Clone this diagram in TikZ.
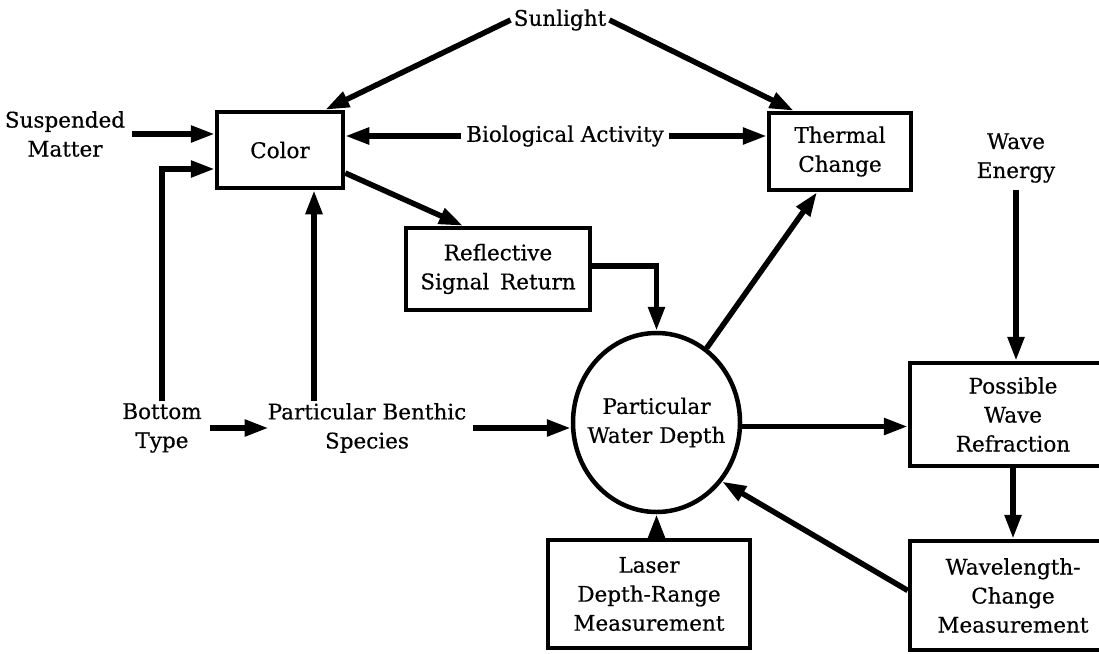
\documentclass[tikz,border=0pt]{standalone}
\usepackage{fontspec}
\setmainfont{DejaVu Serif}[FakeBold=0.5]
\usetikzlibrary{arrows.meta,shapes.geometric}
\tikzset{
  box/.style={draw, line width=4.5pt, inner sep=0pt, align=center},
  lbl/.style={align=center, inner xsep=3pt, inner ysep=2pt},
  arr/.style={line width=5.5pt, -{Triangle[length=24pt,width=16pt]}},
}
\begin{document}
\begin{tikzpicture}[x=1pt,y=-1pt,font=\fontsize{21.5pt}{29pt}\selectfont]
\clip (0,0) rectangle (1099,653);
\fill[white] (0,0) rectangle (1099,653);
% boxes
\node[box, minimum width=126pt, minimum height=76pt] (color) at (280,150) {Color};
\node[box, minimum width=142pt, minimum height=77pt] (thermal) at (840,151.5) {Thermal\\Change};
\node[box, minimum width=184pt, minimum height=82pt] (refl) at (498,269) {Reflective\\Signal\enspace Return};
\node[box, minimum width=206pt, minimum height=103pt] (possible) at (1013,414.5) {Possible\\Wave\\Refraction};
\node[box, minimum width=206pt, minimum height=109pt] (wavelength) at (1013,595.5) {Wavelength-\\Change\\Measurement};
\node[box, minimum width=202pt, minimum height=108pt] (laser) at (649,594) {Laser\\Depth-Range\\Measurement};
\node[draw, ellipse, line width=4.5pt, inner xsep=-12pt, inner ysep=0pt, align=center, minimum width=167pt, minimum height=179pt] (depth) at (656.5,422.5) {Particular\\Water Depth};
% labels
\node[lbl] (sun) at (560,20) {Sunlight};
\node[lbl] (susp) at (65,134) {Suspended\\Matter};
\node[lbl, inner xsep=5pt] (bio) at (565,136) {Biological Activity};
\node[lbl] (wave) at (1016,158) {Wave\\Energy};
\node[lbl] (bottom) at (162,428) {Bottom\\Type};
\node[lbl] (benthic) at (367,428) {Particular Benthic\\Species};
% connectors
\draw[arr] (sun.west) -- ([xshift=-20pt]color.north east);
\draw[arr] (sun.east) -- ([xshift=27pt]thermal.north west);
\draw[arr, shorten <=4pt] (susp.east) -- (color.west |- susp.east);
\draw[arr] (bottom.north) |- ([yshift=-19pt]color.west);
\draw[arr] ([xshift=34pt]color.south |- benthic.north) -- ([xshift=34pt]color.south);
\draw[arr] (bio.west) -- (color.east |- bio.west);
\draw[arr] (bio.east) -- (thermal.west |- bio.east);
\draw[arr] ([yshift=-23pt]color.east) -- ([xshift=-35pt]refl.north);
\draw[arr] ([yshift=3pt]refl.east) -| (depth.north);
\draw[arr] (depth.56) -- ([xshift=-23pt]thermal.south);
\draw[arr, shorten <=4pt] (benthic.east) -- (benthic.east -| depth.west);
\draw[arr, shorten <=5pt, shorten >=-4pt] (bottom.east) -- (benthic.west);
\draw[arr] ([yshift=-4pt]depth.east) -- ([yshift=-4pt]depth.east -| possible.west);
\draw[arr, shorten <=5pt] (wave.south) -- (wave.south |- possible.north);
\draw[arr] (possible.south) -- (wavelength.north);
\draw[arr] (laser.north -| depth.south) -- (depth.south);
\draw[arr] ([yshift=5pt]wavelength.west) -- (depth.-42);
\end{tikzpicture}
\end{document}
